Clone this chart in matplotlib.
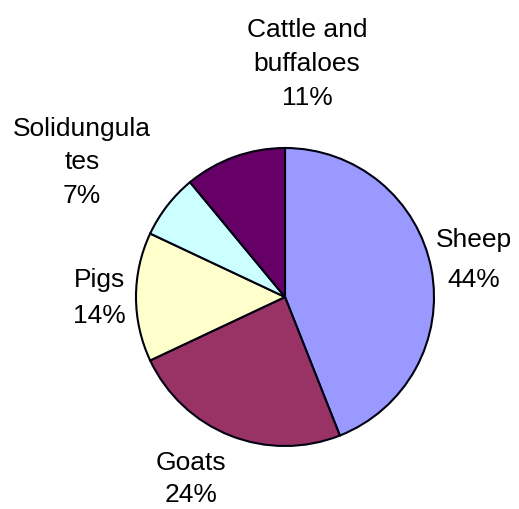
import matplotlib
matplotlib.use("Agg")
import matplotlib.pyplot as plt

# Livestock composition (percent of total head)
categories = ["Sheep", "Goats", "Pigs", "Solidungula\ntes", "Cattle and\nbuffaloes"]
shares = [44, 24, 14, 7, 11]
colors = ["#9999FF", "#993366", "#FFFFCC", "#CCFFFF", "#660066"]

# label anchor points in pixel space (x, y from top) and line spacing
label_pos = [(474, 260), (191, 479), (99, 298), (82, 162), (307, 64)]
label_spacing = [1.8, 1.4, 1.6, 1.5, 1.55]

W, H = 519, 509
fig = plt.figure(figsize=(W / 100, H / 100), dpi=100)
ax = fig.add_axes([0, 0, 1, 1])

cx, cy, r = 285, H - 297, 149
ax.pie(shares, colors=colors, startangle=90, counterclock=False,
       center=(cx, cy), radius=r,
       wedgeprops=dict(edgecolor="#000010", linewidth=1.5))

for name, val, (x, y), ls in zip(categories, shares, label_pos, label_spacing):
    ax.text(x, H - y, f"{name}\n{val}%", ha="center", va="center",
            fontsize=19, family="Liberation Sans", linespacing=ls,
            color="black")

ax.set_xlim(0, W)
ax.set_ylim(0, H)
ax.set_aspect("equal")
ax.axis("off")

fig.savefig("out.png", dpi=100, facecolor="white")
